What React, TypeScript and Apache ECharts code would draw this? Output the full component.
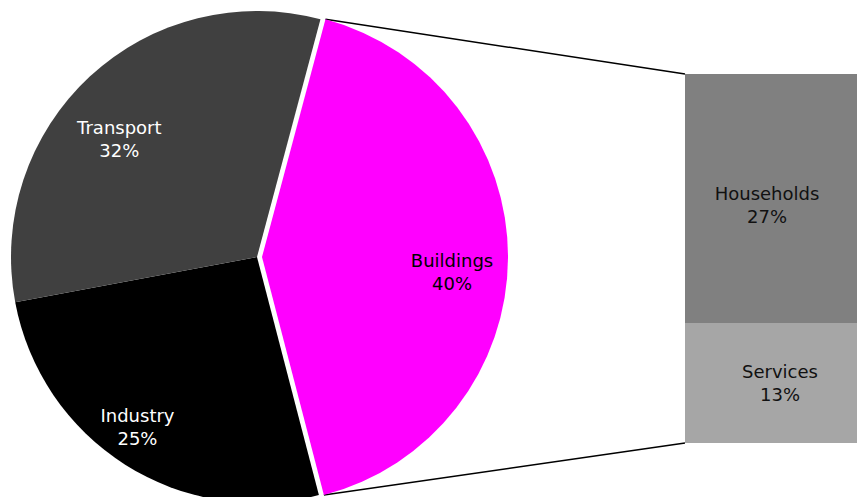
import React, { useEffect, useRef } from "react";
import * as echarts from "echarts";

const pieCategories = ["Buildings", "Industry", "Transport"];
const pieShares = [41.8, 26.1, 32.1];
const pieLabels = ["40%", "25%", "32%"];

// Bar breakdown of Buildings
const barCategories = ["Services", "Households"];
const barValues = [13, 27];
const barLabels = ["13%", "27%"];

const W = 857;
const H = 497;
const CX = 257;
const CY = 257;
const R = 246;
const EXPLODE = 5;
const START = 75.05;
const BAR_LEFT = 685;
const BAR_TOP = 74;
const BAR_BOTTOM = 443;

const pieColors = ["#ff00ff", "#000000", "#404040"];
const pieTextColors = ["#000000", "#ffffff", "#ffffff"];
const pieLabelShift = [
  [64, 15],
  [-52, 64],
  [-52, -26],
];
const barColors = ["#a6a6a6", "#808080"];
const barLabelShift = [
  [9, 0],
  [-4, 6],
];
const FONT = "'DejaVu Sans', Verdana, sans-serif";
const FONT_SIZE = 18;

export default function App() {
  const ref = useRef<HTMLDivElement>(null);
  useEffect(() => {
    if (!ref.current) return;
    const chart = echarts.init(ref.current, undefined, { renderer: "svg" });
    const total = pieShares.reduce((a, b) => a + b, 0);
    const a1 = (START * Math.PI) / 180;
    const a2 = ((START - (360 * pieShares[0]) / total) * Math.PI) / 180;
    const mid = (a1 + a2) / 2;
    const ox = CX + EXPLODE * Math.cos(mid);
    const oy = CY - EXPLODE * Math.sin(mid);
    const top = [ox + R * Math.cos(a1), oy - R * Math.sin(a1)];
    const bot = [ox + R * Math.cos(a2), oy - R * Math.sin(a2)];

    chart.setOption({
      animation: false,
      grid: { left: BAR_LEFT, right: 0, top: BAR_TOP, bottom: H - BAR_BOTTOM },
      xAxis: { type: "category", data: ["Buildings"], show: false },
      yAxis: { type: "value", min: 0, max: barValues.reduce((a, b) => a + b, 0), show: false },
      graphic: [
        {
          type: "line",
          shape: { x1: top[0], y1: top[1], x2: BAR_LEFT, y2: BAR_TOP },
          style: { stroke: "#000", lineWidth: 1.5 },
          silent: true,
        },
        {
          type: "line",
          shape: { x1: bot[0], y1: bot[1], x2: BAR_LEFT, y2: BAR_BOTTOM },
          style: { stroke: "#000", lineWidth: 1.5 },
          silent: true,
        },
      ],
      series: [
        {
          type: "pie",
          center: [CX, CY],
          radius: R,
          startAngle: START,
          clockwise: true,
          avoidLabelOverlap: false,
          selectedMode: "single",
          selectedOffset: EXPLODE,
          emphasis: { disabled: true },
          labelLine: { show: false },
          data: pieCategories.map((name, i) => ({
            name,
            value: pieShares[i],
            selected: i === 0,
            itemStyle: { color: pieColors[i] },
            label: {
              show: true,
              position: "inside",
              formatter: `{b}\n${pieLabels[i]}`,
              color: pieTextColors[i],
              fontFamily: FONT,
              fontSize: FONT_SIZE,
              lineHeight: 23,
              align: "center",
            },
          })),
          labelLayout: (p: any) => ({
            dx: pieLabelShift[p.dataIndex][0],
            dy: pieLabelShift[p.dataIndex][1],
          }),
        },
        ...barCategories.map((name, i) => ({
          type: "bar",
          name,
          stack: "b",
          barWidth: "100%",
          data: [barValues[i]],
          itemStyle: { color: barColors[i] },
          emphasis: { disabled: true },
          label: {
            show: true,
            position: "inside",
            formatter: `${name}\n${barLabels[i]}`,
            color: "#111111",
            fontFamily: FONT,
            fontSize: FONT_SIZE,
            lineHeight: 23,
            align: "center",
            offset: barLabelShift[i],
          },
        })),
      ],
    });
    return () => chart.dispose();
  }, []);
  return (
    <div
      ref={ref}
      style={{ position: "fixed", left: 0, top: 0, width: W, height: H, background: "#fff" }}
    />
  );
}
